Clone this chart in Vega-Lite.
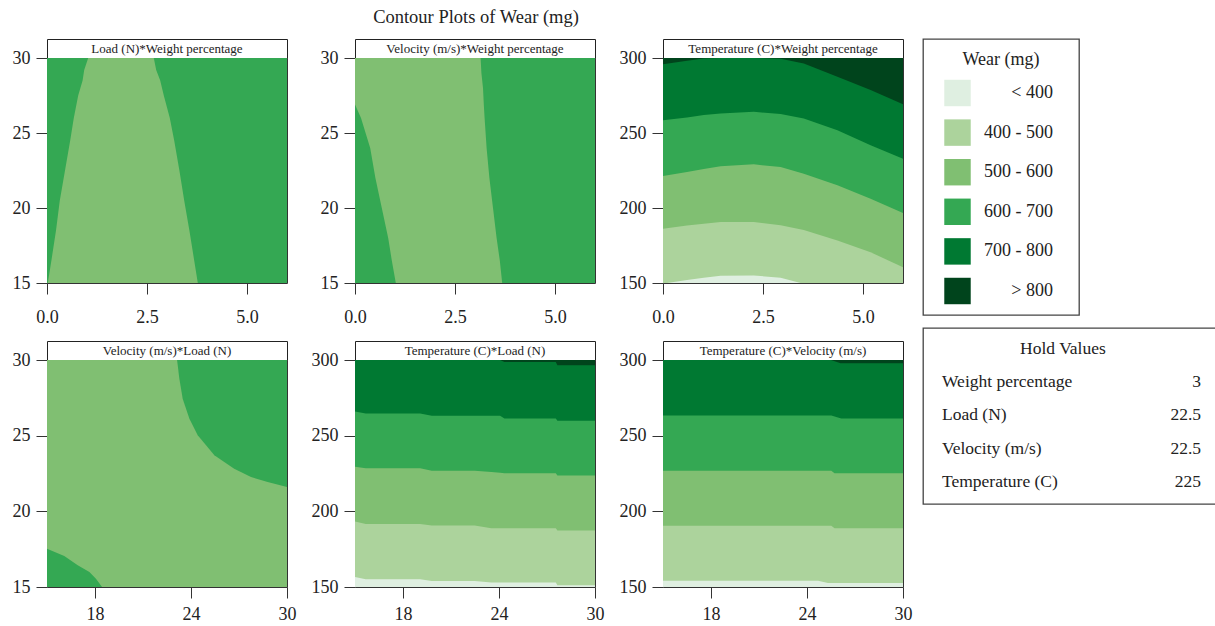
{
 "$schema": "https://vega.github.io/schema/vega-lite/v6.json",
 "background": "white",
 "padding": {"left": 11, "top": 8, "right": 0, "bottom": 0},
 "config": {
  "font": "Liberation Serif",
  "view": {"stroke": "#333", "strokeWidth": 1},
  "axis": {"domain": false, "grid": false, "tickColor": "#333", "tickSize": 11, "labelColor": "#222", "labelFontSize": 18, "labelFlush": false, "labelOverlap": false, "labelPadding": 6, "title": null},
  "title": {"fontWeight": "normal", "color": "#222"}
 },
 "datasets": {
  "p1": [
   {"y": 15, "lo": 0, "hi": 6, "band": "600 - 700", "part": "bg"},
   {"y": 30, "lo": 0, "hi": 6, "band": "600 - 700", "part": "bg"},
   {"y": 15, "lo": 0.02, "hi": 3.77, "band": "500 - 600", "part": "m"},
   {"y": 16.5, "lo": 0.11, "hi": 3.68, "band": "500 - 600", "part": "m"},
   {"y": 18.5, "lo": 0.225, "hi": 3.56, "band": "500 - 600", "part": "m"},
   {"y": 20.5, "lo": 0.32, "hi": 3.43, "band": "500 - 600", "part": "m"},
   {"y": 22.5, "lo": 0.45, "hi": 3.31, "band": "500 - 600", "part": "m"},
   {"y": 24.5, "lo": 0.58, "hi": 3.18, "band": "500 - 600", "part": "m"},
   {"y": 26, "lo": 0.67, "hi": 3.07, "band": "500 - 600", "part": "m"},
   {"y": 27.5, "lo": 0.78, "hi": 2.92, "band": "500 - 600", "part": "m"},
   {"y": 28.5, "lo": 0.89, "hi": 2.83, "band": "500 - 600", "part": "m"},
   {"y": 29.2, "lo": 0.93, "hi": 2.73, "band": "500 - 600", "part": "m"},
   {"y": 30, "lo": 1.03, "hi": 2.67, "band": "500 - 600", "part": "m"}
  ],
  "p2": [
   {"y": 15, "lo": 0, "hi": 6, "band": "600 - 700", "part": "bg"},
   {"y": 30, "lo": 0, "hi": 6, "band": "600 - 700", "part": "bg"},
   {"y": 15, "lo": 1.02, "hi": 3.68, "band": "500 - 600", "part": "m"},
   {"y": 16.5, "lo": 0.92, "hi": 3.62, "band": "500 - 600", "part": "m"},
   {"y": 18, "lo": 0.83, "hi": 3.54, "band": "500 - 600", "part": "m"},
   {"y": 20, "lo": 0.67, "hi": 3.45, "band": "500 - 600", "part": "m"},
   {"y": 22, "lo": 0.51, "hi": 3.36, "band": "500 - 600", "part": "m"},
   {"y": 24, "lo": 0.38, "hi": 3.29, "band": "500 - 600", "part": "m"},
   {"y": 26, "lo": 0.15, "hi": 3.24, "band": "500 - 600", "part": "m"},
   {"y": 26.9, "lo": 0, "hi": 3.22, "band": "500 - 600", "part": "m"},
   {"y": 28, "lo": 0, "hi": 3.2, "band": "500 - 600", "part": "m"},
   {"y": 29, "lo": 0, "hi": 3.16, "band": "500 - 600", "part": "m"},
   {"y": 30, "lo": 0, "hi": 3.14, "band": "500 - 600", "part": "m"}
  ],
  "p3": [
   {"x": 0, "lo": 150, "hi": 300, "band": "> 800", "part": "a"},
   {"x": 6, "lo": 150, "hi": 300, "band": "> 800", "part": "a"},
   {"x": 0, "lo": 150, "hi": 295.8, "band": "700 - 800", "part": "a"},
   {"x": 0.6, "lo": 150, "hi": 298.2, "band": "700 - 800", "part": "a"},
   {"x": 1.02, "lo": 150, "hi": 299.6, "band": "700 - 800", "part": "a"},
   {"x": 1.44, "lo": 150, "hi": 300, "band": "700 - 800", "part": "a"},
   {"x": 2.27, "lo": 150, "hi": 300, "band": "700 - 800", "part": "a"},
   {"x": 2.94, "lo": 150, "hi": 299.5, "band": "700 - 800", "part": "a"},
   {"x": 3.52, "lo": 150, "hi": 296.4, "band": "700 - 800", "part": "a"},
   {"x": 4.36, "lo": 150, "hi": 287.5, "band": "700 - 800", "part": "a"},
   {"x": 5.19, "lo": 150, "hi": 278.6, "band": "700 - 800", "part": "a"},
   {"x": 6, "lo": 150, "hi": 269.2, "band": "700 - 800", "part": "a"},
   {"x": 0, "lo": 150, "hi": 258.5, "band": "600 - 700", "part": "a"},
   {"x": 0.6, "lo": 150, "hi": 260.3, "band": "600 - 700", "part": "a"},
   {"x": 1.02, "lo": 150, "hi": 262, "band": "600 - 700", "part": "a"},
   {"x": 1.44, "lo": 150, "hi": 263, "band": "600 - 700", "part": "a"},
   {"x": 2.27, "lo": 150, "hi": 264.1, "band": "600 - 700", "part": "a"},
   {"x": 2.94, "lo": 150, "hi": 262.6, "band": "600 - 700", "part": "a"},
   {"x": 3.52, "lo": 150, "hi": 259.7, "band": "600 - 700", "part": "a"},
   {"x": 4.36, "lo": 150, "hi": 251.9, "band": "600 - 700", "part": "a"},
   {"x": 5.19, "lo": 150, "hi": 241.8, "band": "600 - 700", "part": "a"},
   {"x": 6, "lo": 150, "hi": 232.9, "band": "600 - 700", "part": "a"},
   {"x": 0, "lo": 150, "hi": 221.3, "band": "500 - 600", "part": "a"},
   {"x": 0.6, "lo": 150, "hi": 224, "band": "500 - 600", "part": "a"},
   {"x": 1.02, "lo": 150, "hi": 226, "band": "500 - 600", "part": "a"},
   {"x": 1.44, "lo": 150, "hi": 227.8, "band": "500 - 600", "part": "a"},
   {"x": 2.27, "lo": 150, "hi": 229.1, "band": "500 - 600", "part": "a"},
   {"x": 2.94, "lo": 150, "hi": 227.3, "band": "500 - 600", "part": "a"},
   {"x": 3.52, "lo": 150, "hi": 222.9, "band": "500 - 600", "part": "a"},
   {"x": 4.36, "lo": 150, "hi": 215.1, "band": "500 - 600", "part": "a"},
   {"x": 5.19, "lo": 150, "hi": 206.2, "band": "500 - 600", "part": "a"},
   {"x": 6, "lo": 150, "hi": 196.6, "band": "500 - 600", "part": "a"},
   {"x": 0, "lo": 150, "hi": 186.1, "band": "400 - 500", "part": "a"},
   {"x": 0.6, "lo": 150, "hi": 188.3, "band": "400 - 500", "part": "a"},
   {"x": 1.02, "lo": 150, "hi": 189.5, "band": "400 - 500", "part": "a"},
   {"x": 1.44, "lo": 150, "hi": 190.6, "band": "400 - 500", "part": "a"},
   {"x": 2.27, "lo": 150, "hi": 190.6, "band": "400 - 500", "part": "a"},
   {"x": 2.94, "lo": 150, "hi": 188.5, "band": "400 - 500", "part": "a"},
   {"x": 3.52, "lo": 150, "hi": 185.4, "band": "400 - 500", "part": "a"},
   {"x": 4.36, "lo": 150, "hi": 178.3, "band": "400 - 500", "part": "a"},
   {"x": 5.19, "lo": 150, "hi": 170.5, "band": "400 - 500", "part": "a"},
   {"x": 6, "lo": 150, "hi": 160.5, "band": "400 - 500", "part": "a"},
   {"x": 0, "lo": 150, "hi": 150, "band": "< 400", "part": "a"},
   {"x": 0.1, "lo": 150, "hi": 150, "band": "< 400", "part": "a"},
   {"x": 0.6, "lo": 150, "hi": 152, "band": "< 400", "part": "a"},
   {"x": 1.02, "lo": 150, "hi": 153.5, "band": "< 400", "part": "a"},
   {"x": 1.44, "lo": 150, "hi": 154.9, "band": "< 400", "part": "a"},
   {"x": 2.27, "lo": 150, "hi": 155, "band": "< 400", "part": "a"},
   {"x": 2.94, "lo": 150, "hi": 153.5, "band": "< 400", "part": "a"},
   {"x": 3.44, "lo": 150, "hi": 150, "band": "< 400", "part": "a"},
   {"x": 6, "lo": 150, "hi": 150, "band": "< 400", "part": "a"}
  ],
  "p4": [
   {"x": 15, "lo": 15, "hi": 30, "band": "500 - 600", "part": "bg"},
   {"x": 30, "lo": 15, "hi": 30, "band": "500 - 600", "part": "bg"},
   {"x": 15, "lo": 15, "hi": 17.53, "band": "600 - 700", "part": "a"},
   {"x": 16.08, "lo": 15, "hi": 17.05, "band": "600 - 700", "part": "a"},
   {"x": 16.92, "lo": 15, "hi": 16.43, "band": "600 - 700", "part": "a"},
   {"x": 17.65, "lo": 15, "hi": 15.99, "band": "600 - 700", "part": "a"},
   {"x": 18.06, "lo": 15, "hi": 15.55, "band": "600 - 700", "part": "a"},
   {"x": 18.44, "lo": 15, "hi": 15, "band": "600 - 700", "part": "a"},
   {"x": 23.13, "lo": 30, "hi": 30, "band": "600 - 700", "part": "b"},
   {"x": 23.27, "lo": 28.77, "hi": 30, "band": "600 - 700", "part": "b"},
   {"x": 23.48, "lo": 27.44, "hi": 30, "band": "600 - 700", "part": "b"},
   {"x": 23.9, "lo": 26.12, "hi": 30, "band": "600 - 700", "part": "b"},
   {"x": 24.42, "lo": 25.02, "hi": 30, "band": "600 - 700", "part": "b"},
   {"x": 25.46, "lo": 23.7, "hi": 30, "band": "600 - 700", "part": "b"},
   {"x": 26.7, "lo": 22.82, "hi": 30, "band": "600 - 700", "part": "b"},
   {"x": 27.75, "lo": 22.27, "hi": 30, "band": "600 - 700", "part": "b"},
   {"x": 28.79, "lo": 21.94, "hi": 30, "band": "600 - 700", "part": "b"},
   {"x": 30, "lo": 21.61, "hi": 30, "band": "600 - 700", "part": "b"}
  ],
  "p5": [
   {"x": 15, "lo": 150, "hi": 300, "band": "> 800", "part": "a"},
   {"x": 30, "lo": 150, "hi": 300, "band": "> 800", "part": "a"},
   {"x": 15, "lo": 150, "hi": 300, "band": "700 - 800", "part": "a"},
   {"x": 24.07, "lo": 150, "hi": 300, "band": "700 - 800", "part": "a"},
   {"x": 24.34, "lo": 150, "hi": 298.7, "band": "700 - 800", "part": "a"},
   {"x": 27.55, "lo": 150, "hi": 298.7, "band": "700 - 800", "part": "a"},
   {"x": 27.65, "lo": 150, "hi": 296.5, "band": "700 - 800", "part": "a"},
   {"x": 30, "lo": 150, "hi": 296.5, "band": "700 - 800", "part": "a"},
   {"x": 15, "lo": 150, "hi": 266, "band": "600 - 700", "part": "a"},
   {"x": 15.67, "lo": 150, "hi": 264.6, "band": "600 - 700", "part": "a"},
   {"x": 19.07, "lo": 150, "hi": 264.6, "band": "600 - 700", "part": "a"},
   {"x": 19.8, "lo": 150, "hi": 263.1, "band": "600 - 700", "part": "a"},
   {"x": 24.07, "lo": 150, "hi": 263.1, "band": "600 - 700", "part": "a"},
   {"x": 24.34, "lo": 150, "hi": 261.4, "band": "600 - 700", "part": "a"},
   {"x": 27.55, "lo": 150, "hi": 261.4, "band": "600 - 700", "part": "a"},
   {"x": 27.65, "lo": 150, "hi": 259.8, "band": "600 - 700", "part": "a"},
   {"x": 30, "lo": 150, "hi": 259.8, "band": "600 - 700", "part": "a"},
   {"x": 15, "lo": 150, "hi": 229.5, "band": "500 - 600", "part": "a"},
   {"x": 15.67, "lo": 150, "hi": 228.4, "band": "500 - 600", "part": "a"},
   {"x": 19.07, "lo": 150, "hi": 228.4, "band": "500 - 600", "part": "a"},
   {"x": 19.8, "lo": 150, "hi": 226.9, "band": "500 - 600", "part": "a"},
   {"x": 22.48, "lo": 150, "hi": 226.9, "band": "500 - 600", "part": "a"},
   {"x": 23.52, "lo": 150, "hi": 226, "band": "500 - 600", "part": "a"},
   {"x": 24.07, "lo": 150, "hi": 225.5, "band": "500 - 600", "part": "a"},
   {"x": 24.34, "lo": 150, "hi": 225.1, "band": "500 - 600", "part": "a"},
   {"x": 27.55, "lo": 150, "hi": 225.1, "band": "500 - 600", "part": "a"},
   {"x": 27.65, "lo": 150, "hi": 223.6, "band": "500 - 600", "part": "a"},
   {"x": 30, "lo": 150, "hi": 223.6, "band": "500 - 600", "part": "a"},
   {"x": 15, "lo": 150, "hi": 193.3, "band": "400 - 500", "part": "a"},
   {"x": 15.67, "lo": 150, "hi": 191.7, "band": "400 - 500", "part": "a"},
   {"x": 19.07, "lo": 150, "hi": 191.7, "band": "400 - 500", "part": "a"},
   {"x": 19.8, "lo": 150, "hi": 190.6, "band": "400 - 500", "part": "a"},
   {"x": 22.48, "lo": 150, "hi": 190.6, "band": "400 - 500", "part": "a"},
   {"x": 23.52, "lo": 150, "hi": 188.9, "band": "400 - 500", "part": "a"},
   {"x": 27.55, "lo": 150, "hi": 188.9, "band": "400 - 500", "part": "a"},
   {"x": 27.65, "lo": 150, "hi": 187.3, "band": "400 - 500", "part": "a"},
   {"x": 30, "lo": 150, "hi": 187.3, "band": "400 - 500", "part": "a"},
   {"x": 15, "lo": 150, "hi": 156.6, "band": "< 400", "part": "a"},
   {"x": 15.67, "lo": 150, "hi": 155.1, "band": "< 400", "part": "a"},
   {"x": 19.07, "lo": 150, "hi": 155.1, "band": "< 400", "part": "a"},
   {"x": 19.8, "lo": 150, "hi": 154, "band": "< 400", "part": "a"},
   {"x": 22.48, "lo": 150, "hi": 154, "band": "< 400", "part": "a"},
   {"x": 23.52, "lo": 150, "hi": 152.9, "band": "< 400", "part": "a"},
   {"x": 27.55, "lo": 150, "hi": 152.9, "band": "< 400", "part": "a"},
   {"x": 27.65, "lo": 150, "hi": 151.1, "band": "< 400", "part": "a"},
   {"x": 30, "lo": 150, "hi": 151.1, "band": "< 400", "part": "a"}
  ],
  "p6": [
   {"x": 15, "lo": 150, "hi": 300, "band": "> 800", "part": "a"},
   {"x": 30, "lo": 150, "hi": 300, "band": "> 800", "part": "a"},
   {"x": 15, "lo": 150, "hi": 300, "band": "700 - 800", "part": "a"},
   {"x": 25.5, "lo": 150, "hi": 300, "band": "700 - 800", "part": "a"},
   {"x": 26.1, "lo": 150, "hi": 297.8, "band": "700 - 800", "part": "a"},
   {"x": 30, "lo": 150, "hi": 297.8, "band": "700 - 800", "part": "a"},
   {"x": 15, "lo": 150, "hi": 263.3, "band": "600 - 700", "part": "a"},
   {"x": 25.52, "lo": 150, "hi": 263.3, "band": "600 - 700", "part": "a"},
   {"x": 26.14, "lo": 150, "hi": 261.3, "band": "600 - 700", "part": "a"},
   {"x": 30, "lo": 150, "hi": 261.3, "band": "600 - 700", "part": "a"},
   {"x": 15, "lo": 150, "hi": 226.9, "band": "500 - 600", "part": "a"},
   {"x": 25.52, "lo": 150, "hi": 226.9, "band": "500 - 600", "part": "a"},
   {"x": 25.72, "lo": 150, "hi": 225.1, "band": "500 - 600", "part": "a"},
   {"x": 30, "lo": 150, "hi": 225.1, "band": "500 - 600", "part": "a"},
   {"x": 15, "lo": 150, "hi": 190.4, "band": "400 - 500", "part": "a"},
   {"x": 25.52, "lo": 150, "hi": 190.4, "band": "400 - 500", "part": "a"},
   {"x": 25.72, "lo": 150, "hi": 188.9, "band": "400 - 500", "part": "a"},
   {"x": 30, "lo": 150, "hi": 188.9, "band": "400 - 500", "part": "a"},
   {"x": 15, "lo": 150, "hi": 154.2, "band": "< 400", "part": "a"},
   {"x": 24.69, "lo": 150, "hi": 154.2, "band": "< 400", "part": "a"},
   {"x": 25.31, "lo": 150, "hi": 152.6, "band": "< 400", "part": "a"},
   {"x": 30, "lo": 150, "hi": 152.6, "band": "< 400", "part": "a"}
  ]
 },
 "spacing": 9,
 "hconcat": [
  {
   "title": {"text": "Contour Plots of Wear (mg)", "fontSize": 18.5, "offset": 12, "frame": "bounds", "anchor": "middle", "dx": 14},
   "spacing": 0,
   "vconcat": [
    {
     "columns": 3,
     "align": "each",
     "bounds": "flush",
     "spacing": {"row": 0, "column": 68},
     "concat": [
      {"width": 240, "height": 19, "view": {"fill": "white", "stroke": "#222"}, "data": {"values": [{"t": "Load (N)*Weight percentage"}]}, "mark": {"type": "text", "fontSize": 13, "color": "#222"}, "encoding": {"text": {"field": "t"}}},
      {"width": 240, "height": 19, "view": {"fill": "white", "stroke": "#222"}, "data": {"values": [{"t": "Velocity (m/s)*Weight percentage"}]}, "mark": {"type": "text", "fontSize": 13, "color": "#222"}, "encoding": {"text": {"field": "t"}}},
      {"width": 240, "height": 19, "view": {"fill": "white", "stroke": "#222"}, "data": {"values": [{"t": "Temperature (C)*Weight percentage"}]}, "mark": {"type": "text", "fontSize": 13, "color": "#222"}, "encoding": {"text": {"field": "t"}}},
      {
       "width": 240, "height": 225, "data": {"name": "p1"},
       "mark": {"type": "area", "orient": "horizontal", "opacity": 1},
       "encoding": {
        "y": {"field": "y", "type": "quantitative", "scale": {"domain": [15, 30], "nice": false, "zero": false}, "axis": {"values": [15, 20, 25, 30]}},
        "x": {"field": "lo", "type": "quantitative", "stack": null, "scale": {"domain": [0, 6], "nice": false, "zero": false}, "axis": {"values": [0, 2.5, 5], "format": ".1f", "labelPadding": 14, "minExtent": 56, "maxExtent": 56}},
        "x2": {"field": "hi"},
        "color": {"field": "band", "type": "nominal", "legend": null, "scale": {"domain": ["< 400", "400 - 500", "500 - 600", "600 - 700", "700 - 800", "> 800"], "range": ["#dfefe1", "#acd39c", "#80bf72", "#34a853", "#007932", "#00441c"]}},
        "detail": {"field": "part", "type": "nominal"}
       }
      },
      {
       "width": 240, "height": 225, "data": {"name": "p2"},
       "mark": {"type": "area", "orient": "horizontal", "opacity": 1},
       "encoding": {
        "y": {"field": "y", "type": "quantitative", "scale": {"domain": [15, 30], "nice": false, "zero": false}, "axis": {"values": [15, 20, 25, 30]}},
        "x": {"field": "lo", "type": "quantitative", "stack": null, "scale": {"domain": [0, 6], "nice": false, "zero": false}, "axis": {"values": [0, 2.5, 5], "format": ".1f", "labelPadding": 14, "minExtent": 56, "maxExtent": 56}},
        "x2": {"field": "hi"},
        "color": {"field": "band", "type": "nominal", "legend": null, "scale": {"domain": ["< 400", "400 - 500", "500 - 600", "600 - 700", "700 - 800", "> 800"], "range": ["#dfefe1", "#acd39c", "#80bf72", "#34a853", "#007932", "#00441c"]}},
        "detail": {"field": "part", "type": "nominal"}
       }
      },
      {
       "width": 240, "height": 225, "data": {"name": "p3"},
       "mark": {"type": "area", "orient": "vertical", "opacity": 1},
       "encoding": {
        "x": {"field": "x", "type": "quantitative", "scale": {"domain": [0, 6], "nice": false, "zero": false}, "axis": {"values": [0, 2.5, 5], "format": ".1f", "labelPadding": 14, "minExtent": 56, "maxExtent": 56}},
        "y": {"field": "lo", "type": "quantitative", "stack": null, "scale": {"domain": [150, 300], "nice": false, "zero": false}, "axis": {"values": [150, 200, 250, 300]}},
        "y2": {"field": "hi"},
        "color": {"field": "band", "type": "nominal", "legend": null, "scale": {"domain": ["< 400", "400 - 500", "500 - 600", "600 - 700", "700 - 800", "> 800"], "range": ["#dfefe1", "#acd39c", "#80bf72", "#34a853", "#007932", "#00441c"]}},
        "detail": {"field": "part", "type": "nominal"}
       }
      }
     ]
    },
    {
     "columns": 3,
     "align": "each",
     "bounds": "flush",
     "spacing": {"row": 0, "column": 68},
     "concat": [
      {"width": 240, "height": 19, "view": {"fill": "white", "stroke": "#222"}, "data": {"values": [{"t": "Velocity (m/s)*Load (N)"}]}, "mark": {"type": "text", "fontSize": 13, "color": "#222"}, "encoding": {"text": {"field": "t"}}},
      {"width": 240, "height": 19, "view": {"fill": "white", "stroke": "#222"}, "data": {"values": [{"t": "Temperature (C)*Load (N)"}]}, "mark": {"type": "text", "fontSize": 13, "color": "#222"}, "encoding": {"text": {"field": "t"}}},
      {"width": 240, "height": 19, "view": {"fill": "white", "stroke": "#222"}, "data": {"values": [{"t": "Temperature (C)*Velocity (m/s)"}]}, "mark": {"type": "text", "fontSize": 13, "color": "#222"}, "encoding": {"text": {"field": "t"}}},
      {
       "width": 240, "height": 227, "data": {"name": "p4"},
       "mark": {"type": "area", "orient": "vertical", "opacity": 1},
       "encoding": {
        "x": {"field": "x", "type": "quantitative", "scale": {"domain": [15, 30], "nice": false, "zero": false}, "axis": {"values": [18, 24, 30], "labelPadding": 7}},
        "y": {"field": "lo", "type": "quantitative", "stack": null, "scale": {"domain": [15, 30], "nice": false, "zero": false}, "axis": {"values": [15, 20, 25, 30]}},
        "y2": {"field": "hi"},
        "color": {"field": "band", "type": "nominal", "legend": null, "scale": {"domain": ["< 400", "400 - 500", "500 - 600", "600 - 700", "700 - 800", "> 800"], "range": ["#dfefe1", "#acd39c", "#80bf72", "#34a853", "#007932", "#00441c"]}},
        "detail": {"field": "part", "type": "nominal"}
       }
      },
      {
       "width": 240, "height": 227, "data": {"name": "p5"},
       "mark": {"type": "area", "orient": "vertical", "opacity": 1},
       "encoding": {
        "x": {"field": "x", "type": "quantitative", "scale": {"domain": [15, 30], "nice": false, "zero": false}, "axis": {"values": [18, 24, 30], "labelPadding": 7}},
        "y": {"field": "lo", "type": "quantitative", "stack": null, "scale": {"domain": [150, 300], "nice": false, "zero": false}, "axis": {"values": [150, 200, 250, 300]}},
        "y2": {"field": "hi"},
        "color": {"field": "band", "type": "nominal", "legend": null, "scale": {"domain": ["< 400", "400 - 500", "500 - 600", "600 - 700", "700 - 800", "> 800"], "range": ["#dfefe1", "#acd39c", "#80bf72", "#34a853", "#007932", "#00441c"]}},
        "detail": {"field": "part", "type": "nominal"}
       }
      },
      {
       "width": 240, "height": 227, "data": {"name": "p6"},
       "mark": {"type": "area", "orient": "vertical", "opacity": 1},
       "encoding": {
        "x": {"field": "x", "type": "quantitative", "scale": {"domain": [15, 30], "nice": false, "zero": false}, "axis": {"values": [18, 24, 30], "labelPadding": 7}},
        "y": {"field": "lo", "type": "quantitative", "stack": null, "scale": {"domain": [150, 300], "nice": false, "zero": false}, "axis": {"values": [150, 200, 250, 300]}},
        "y2": {"field": "hi"},
        "color": {"field": "band", "type": "nominal", "legend": null, "scale": {"domain": ["< 400", "400 - 500", "500 - 600", "600 - 700", "700 - 800", "> 800"], "range": ["#dfefe1", "#acd39c", "#80bf72", "#34a853", "#007932", "#00441c"]}},
        "detail": {"field": "part", "type": "nominal"}
       }
      }
     ]
    }
   ]
  },
  {
   "spacing": 11,
   "vconcat": [
    {
     "width": 156, "height": 276,
     "view": {"stroke": "#444", "strokeWidth": 1.3, "fill": "white"},
     "resolve": {"scale": {"y": "independent"}},
     "layer": [
      {"data": {"values": [{"t": "Wear (mg)"}]},
       "mark": {"type": "text", "fontSize": 18, "color": "#222"},
       "encoding": {
        "y": {"field": "t", "type": "ordinal", "scale": {"type": "point", "padding": 0, "range": [21, 21]}, "axis": null},
        "text": {"field": "t"}
       }},
      {"data": {"values": [{"band": "< 400"}, {"band": "400 - 500"}, {"band": "500 - 600"}, {"band": "600 - 700"}, {"band": "700 - 800"}, {"band": "> 800"}]},
       "layer": [
        {"mark": {"type": "square", "size": 700, "opacity": 1},
         "encoding": {
          "y": {"field": "band", "type": "ordinal", "scale": {"type": "point", "padding": 0, "domain": ["< 400", "400 - 500", "500 - 600", "600 - 700", "700 - 800", "> 800"], "range": [54, 252]}, "axis": null},
          "x": {"datum": 0, "type": "quantitative", "scale": {"domain": [0, 1], "range": [34.5, 130]}, "axis": null},
          "color": {"field": "band", "type": "nominal", "legend": null, "scale": {"domain": ["< 400", "400 - 500", "500 - 600", "600 - 700", "700 - 800", "> 800"], "range": ["#dfefe1", "#acd39c", "#80bf72", "#34a853", "#007932", "#00441c"]}}
         }},
        {"mark": {"type": "text", "align": "right", "fontSize": 18, "color": "#222"},
         "encoding": {
          "y": {"field": "band", "type": "ordinal", "scale": {"type": "point", "padding": 0, "domain": ["< 400", "400 - 500", "500 - 600", "600 - 700", "700 - 800", "> 800"], "range": [54, 252]}, "axis": null},
          "x": {"datum": 1, "type": "quantitative", "scale": {"domain": [0, 1], "range": [34.5, 130]}, "axis": null},
          "text": {"field": "band"}
         }}
       ]}
     ]
    },
    {
     "width": 300, "height": 176,
     "view": {"stroke": "#444", "strokeWidth": 1.3, "fill": "white"},
     "resolve": {"scale": {"y": "independent"}},
     "layer": [
      {"data": {"values": [{"t": "Hold Values"}]},
       "mark": {"type": "text", "fontSize": 17.5, "color": "#222"},
       "encoding": {
        "y": {"field": "t", "type": "ordinal", "scale": {"type": "point", "padding": 0, "range": [21, 21]}, "axis": null},
        "x": {"datum": 0.467, "type": "quantitative", "scale": {"domain": [0, 1], "range": [19, 278]}, "axis": null},
        "text": {"field": "t"}
       }},
      {"data": {"values": [{"name": "Weight percentage", "val": "3"}, {"name": "Load (N)", "val": "22.5"}, {"name": "Velocity (m/s)", "val": "22.5"}, {"name": "Temperature (C)", "val": "225"}]},
       "encoding": {
        "y": {"field": "name", "type": "ordinal", "scale": {"type": "point", "padding": 0, "domain": ["Weight percentage", "Load (N)", "Velocity (m/s)", "Temperature (C)"], "range": [54, 154]}, "axis": null}
       },
       "layer": [
        {"mark": {"type": "text", "align": "left", "fontSize": 17.5, "color": "#222"},
         "encoding": {
          "x": {"datum": 0, "type": "quantitative", "scale": {"domain": [0, 1], "range": [19, 278]}, "axis": null},
          "text": {"field": "name"}
         }},
        {"mark": {"type": "text", "align": "right", "fontSize": 17.5, "color": "#222"},
         "encoding": {
          "x": {"datum": 1, "type": "quantitative", "scale": {"domain": [0, 1], "range": [19, 278]}, "axis": null},
          "text": {"field": "val"}
         }}
       ]}
     ]
    }
   ]
  }
 ]
}
